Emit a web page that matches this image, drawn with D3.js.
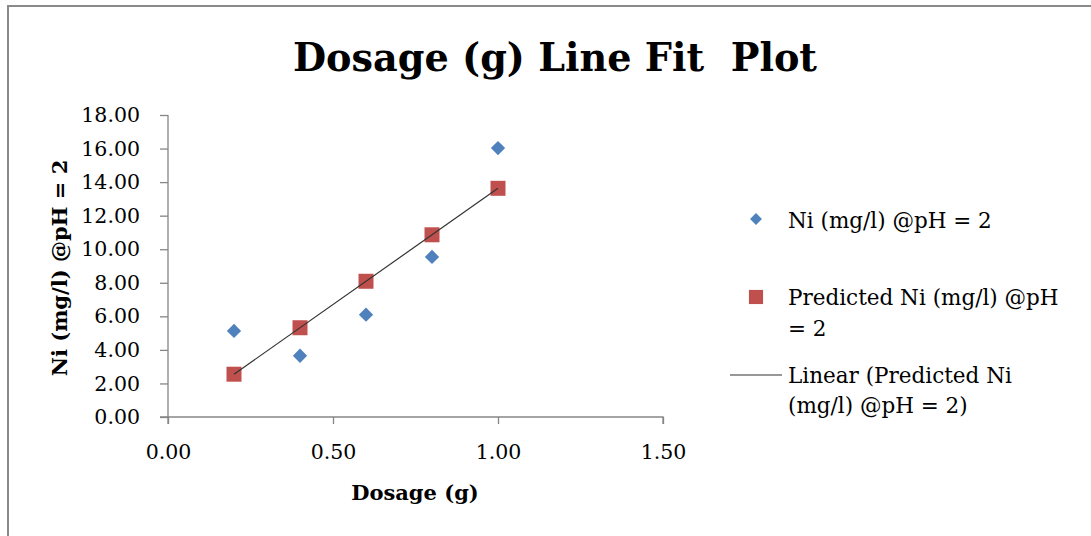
<!DOCTYPE html>
<html><head><meta charset="utf-8">
<script src="https://cdn.jsdelivr.net/npm/d3@7"></script>
<style>
html,body{margin:0;padding:0;background:#fff;}
svg{display:block;}
text{font-family:"DejaVu Serif",serif;fill:#000;}
</style></head>
<body>
<script>
const dosage = [0.2, 0.4, 0.6, 0.8, 1.0];
const niObserved = [5.13, 3.65, 6.10, 9.54, 16.03];
const niPredicted = [2.55, 5.32, 8.09, 10.86, 13.63];
const xTicks = [0, 0.5, 1.0, 1.5];
const yTicks = [0, 2, 4, 6, 8, 10, 12, 14, 16, 18];
const seriesNames = ["Ni (mg/l) @pH = 2", "Predicted Ni (mg/l) @pH = 2", "Linear (Predicted Ni (mg/l) @pH = 2)"];

const W = 1091, H = 536;
const svg = d3.select("body").append("svg").attr("width", W).attr("height", H);

// outer chart border
svg.append("rect").attr("x", 8).attr("y", 6).attr("width", W + 10).attr("height", H + 10)
  .attr("fill", "none").attr("stroke", "#8a8a8a").attr("stroke-width", 2);

const x = d3.scaleLinear().domain([0, 1.5]).range([168, 663]);
const y = d3.scaleLinear().domain([0, 18]).range([417, 115]);

// title
svg.append("text").attr("x", 555).attr("y", 71).attr("text-anchor", "middle")
  .attr("font-size", 40).attr("font-weight", "bold")
  .style("white-space", "pre")
  .attr("textLength", 524).attr("lengthAdjust", "spacingAndGlyphs")
  .text("Dosage (g) Line Fit  Plot");

// axes
const axisColor = "#868686";
const gx = svg.append("g").attr("transform", `translate(0,${y(0)})`)
  .call(d3.axisBottom(x).tickValues(xTicks).tickSize(7).tickPadding(20).tickFormat(d3.format(".2f")));
const gy = svg.append("g").attr("transform", `translate(${x(0)},0)`)
  .call(d3.axisLeft(y).tickValues(yTicks).tickSize(8).tickPadding(20).tickFormat(d3.format(".2f")));
[gx, gy].forEach(g => {
  g.select(".domain").attr("stroke", axisColor).attr("stroke-width", 1.3);
  g.selectAll(".tick line").attr("stroke", axisColor).attr("stroke-width", 1.3);
  g.selectAll(".tick text").attr("font-family", "DejaVu Serif").attr("font-size", 20.5).attr("fill", "#000");
});
gx.select(".domain").attr("d", `M${x(0)},7V0H${x(1.5)}V7`);
gy.select(".domain").attr("d", `M-8,${y(0)}H0V${y(18)}`);

// axis titles
svg.append("text").attr("x", 415).attr("y", 500).attr("text-anchor", "middle")
  .attr("font-size", 21).attr("font-weight", "bold").text("Dosage (g)");
svg.append("text").attr("transform", `translate(67,${268}) rotate(-90)`).attr("text-anchor", "middle")
  .attr("font-size", 21).attr("font-weight", "bold").text("Ni (mg/l) @pH = 2");

const fitX = [dosage[0], dosage[dosage.length - 1]];
const fitY = [niPredicted[0], niPredicted[niPredicted.length - 1]];

const blue = "#4F81BD", red = "#C0504D";
const diamond = d3.symbol().type(d3.symbolDiamond2).size(130);
const square = d3.symbol().type(d3.symbolSquare).size(225);

// predicted squares
svg.append("g").selectAll("path").data(dosage).join("path")
  .attr("d", square).attr("fill", red)
  .attr("transform", (d, i) => `translate(${x(d)},${y(niPredicted[i])})`);
// trendline
svg.append("line").attr("x1", x(fitX[0])).attr("y1", y(fitY[0]))
  .attr("x2", x(fitX[1])).attr("y2", y(fitY[1]))
  .attr("stroke", "#333").attr("stroke-width", 1.2);
// observed diamonds
svg.append("g").selectAll("path").data(dosage).join("path")
  .attr("d", diamond).attr("fill", blue)
  .attr("transform", (d, i) => `translate(${x(d)},${y(niObserved[i])})`);

// legend
const lg = svg.append("g");
const fs = 21.5;
lg.append("path").attr("d", d3.symbol().type(d3.symbolDiamond2).size(90)).attr("fill", blue)
  .attr("transform", "translate(756,219)");
lg.append("text").attr("x", 788).attr("y", 228).attr("font-size", fs).text(seriesNames[0]);

lg.append("path").attr("d", d3.symbol().type(d3.symbolSquare).size(200)).attr("fill", red)
  .attr("transform", "translate(756,297)");
lg.append("text").attr("x", 788).attr("y", 305).attr("font-size", fs).text("Predicted Ni (mg/l) @pH");
lg.append("text").attr("x", 788).attr("y", 336).attr("font-size", fs).text("= 2");

lg.append("line").attr("x1", 730).attr("x2", 782).attr("y1", 375).attr("y2", 375)
  .attr("stroke", "#333").attr("stroke-width", 1.2);
lg.append("text").attr("x", 788).attr("y", 383).attr("font-size", fs).text("Linear (Predicted Ni");
lg.append("text").attr("x", 788).attr("y", 413).attr("font-size", fs).text("(mg/l) @pH = 2)");
</script>
</body></html>
